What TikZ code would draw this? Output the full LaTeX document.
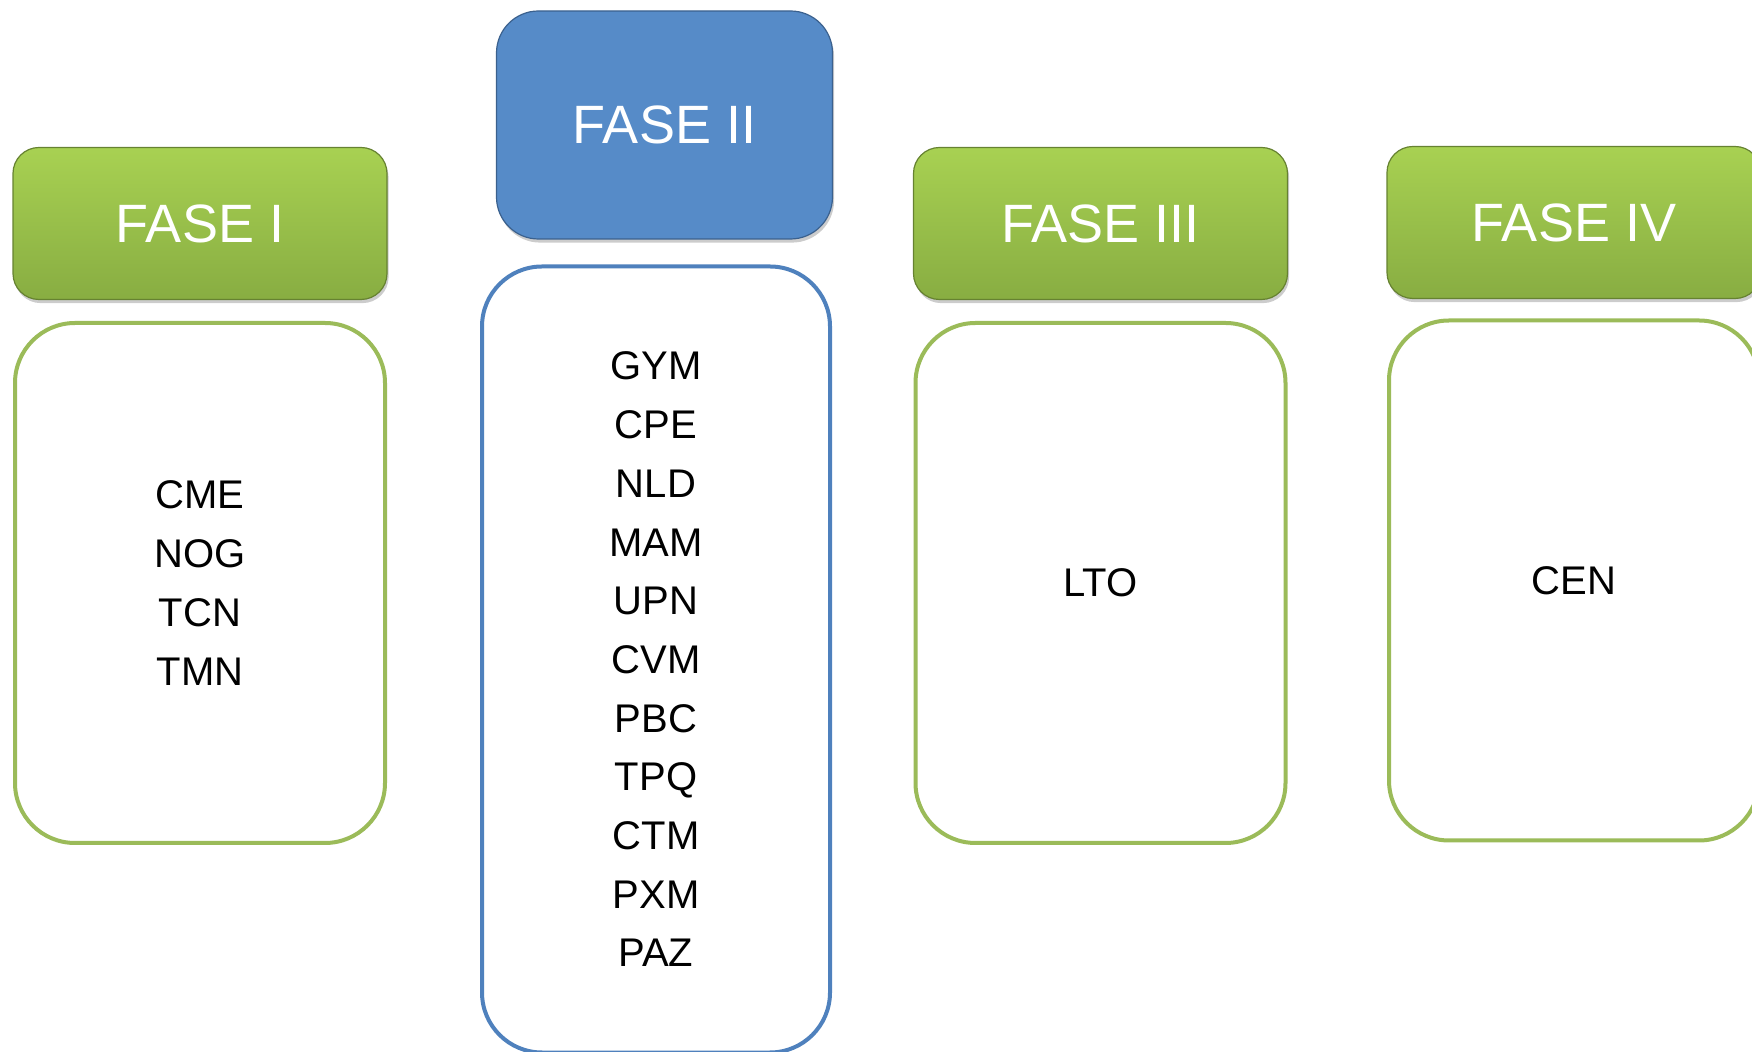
\documentclass[tikz,border=0pt]{standalone}
\usepackage{fontspec}
\setmainfont{Liberation Sans}
\usetikzlibrary{shadows}
\definecolor{gtop}{HTML}{A8D152}
\definecolor{gbot}{HTML}{88AD42}
\definecolor{gline}{HTML}{9BBB59}
\definecolor{bfill}{HTML}{568BC8}
\definecolor{bline}{HTML}{4F81BD}
\begin{document}
\begin{tikzpicture}[x=0.5pt,y=-0.5pt,
  headg/.style={rectangle, rounded corners=13pt, draw=gbot!75!black, line width=0.6pt,
    top color=gtop, bottom color=gbot, text=white, font=\fontsize{27}{32}\selectfont,
    minimum width=187pt, minimum height=76pt, inner sep=0pt,
    drop shadow={shadow xshift=0.8pt, shadow yshift=-1.8pt, opacity=0.4}},
  headb/.style={rectangle, rounded corners=21pt, draw=bline!75!black, line width=0.6pt,
    fill=bfill, text=white, font=\fontsize{27}{32}\selectfont,
    minimum width=168pt, minimum height=114pt, inner sep=0pt,
    drop shadow={shadow xshift=0.8pt, shadow yshift=-1.8pt, opacity=0.4}},
  bodyg/.style={rectangle, rounded corners=30pt, draw=gline, line width=2pt, fill=white,
    font=\fontsize{20}{29.35}\selectfont, align=center,
    minimum width=185pt, minimum height=260pt, inner sep=0pt},
  bodyb/.style={rectangle, rounded corners=30pt, draw=bline, line width=2pt, fill=white,
    font=\fontsize{20}{29.35}\selectfont, align=center,
    minimum width=174pt, minimum height=393pt, inner sep=0pt}]
\useasboundingbox (0,0) rectangle (1752,1052);
\clip (0,0) rectangle (1752,1052);
% Phase I
\node[headg] (h1) at (200,223.5) {FASE I};
\node[bodyg] (b1) at (200,583) {CME\\NOG\\TCN\\TMN};
% Phase II
\node[headb] (h2) at (664.5,125) {FASE II};
\node[bodyb] (b2) at (656,659.5) {GYM\\CPE\\NLD\\MAM\\UPN\\CVM\\PBC\\TPQ\\CTM\\PXM\\PAZ};
% Phase III
\node[headg] (h3) at (1100.5,223.5) {FASE III};
\node[bodyg] (b3) at (1100.5,583) {LTO};
% Phase IV
\node[headg] (h4) at (1574,222.5) {FASE IV};
\node[bodyg] (b4) at (1574,580.5) {CEN};
\end{tikzpicture}
\end{document}
